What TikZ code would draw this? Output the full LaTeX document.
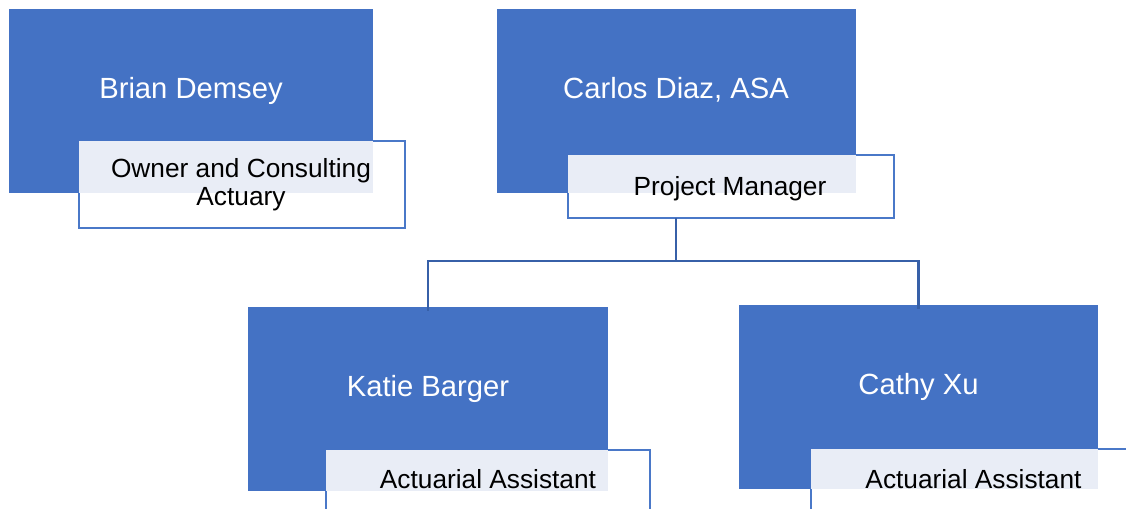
\documentclass[tikz,border=0pt]{standalone}
\usepackage{fontspec}
\setmainfont{Liberation Sans}
\definecolor{boxblue}{HTML}{4472C4}
\definecolor{lblborder}{HTML}{4A78C8}
\definecolor{overlap}{HTML}{E9EDF6}
\definecolor{connblue}{HTML}{3760A8}
\begin{document}
\begin{tikzpicture}[x=0.75pt,y=-0.75pt,
  bluebox/.style={anchor=north west,inner sep=0pt,outer sep=0pt,fill=boxblue,draw=none},
  lblbox/.style={anchor=north west,inner sep=0pt,outer sep=0pt,fill=white,draw=lblborder,line width=1.8pt},
  nametext/.style={anchor=base,inner sep=0pt,text=white,font=\fontsize{21.9pt}{26pt}\selectfont},
  roletext/.style={anchor=base,inner sep=0pt,text=black,align=center,font=\fontsize{19.7pt}{20.3pt}\selectfont},
  conn/.style={draw=connblue,line width=2.2pt}]
\useasboundingbox (0,0) rectangle (1126,508);
\clip (0,0) rectangle (1126,508);
% Brian
\node[lblbox,minimum width={326*0.75pt},minimum height={87*0.75pt}] (bl) at (79,141) {};
\node[bluebox,minimum width={364*0.75pt},minimum height={184*0.75pt}] (b) at (9,9) {};
\begin{scope}\clip (bl.north west) rectangle (bl.south east);
\fill[overlap] (b.north west) rectangle (b.south east);\end{scope}
\node[nametext] (bn) at (191,98) {Brian Demsey};
\node[roletext] (br) at (241,205) {Owner and Consulting\\Actuary};
% Carlos
\node[lblbox,minimum width={326*0.75pt},minimum height={63*0.75pt}] (cl) at (568,155) {};
\node[bluebox,minimum width={359*0.75pt},minimum height={184*0.75pt}] (c) at (497,9) {};
\begin{scope}\clip (cl.north west) rectangle (cl.south east);
\fill[overlap] (c.north west) rectangle (c.south east);\end{scope}
\node[nametext] (cn) at (676,98) {Carlos Diaz, ASA};
% Katie
\node[lblbox,minimum width={324*0.75pt},minimum height={90*0.75pt}] (kl) at (326,450) {};
\node[bluebox,minimum width={360*0.75pt},minimum height={184*0.75pt}] (k) at (248,307) {};
\begin{scope}\clip (kl.north west) rectangle (kl.south east);
\fill[overlap] (k.north west) rectangle (k.south east);\end{scope}
\node[nametext] (kn) at (428,396) {Katie Barger};
\node[roletext] (kr) at (488,488) {Actuarial Assistant};
% Cathy
\node[lblbox,minimum width={326*0.75pt},minimum height={90*0.75pt}] (xl) at (811,449) {};
\node[bluebox,minimum width={359*0.75pt},minimum height={184*0.75pt}] (x) at (739,305) {};
\begin{scope}\clip (xl.north west) rectangle (xl.south east);
\fill[overlap] (x.north west) rectangle (x.south east);\end{scope}
\node[nametext] (xn) at (918.5,394) {Cathy Xu};
\node[roletext] (xr) at (973.5,488) {Actuarial Assistant};
% connectors
\coordinate (j) at (676,261);
\draw[conn] (cl.south -| j) -- (j);
\draw[conn] (j) -| ([yshift=-3pt]k.north);
\draw[conn] (j) -| ([yshift=-3pt]x.north);
\node[roletext] (cr) at (730,195) {Project Manager};
\end{tikzpicture}
\end{document}
